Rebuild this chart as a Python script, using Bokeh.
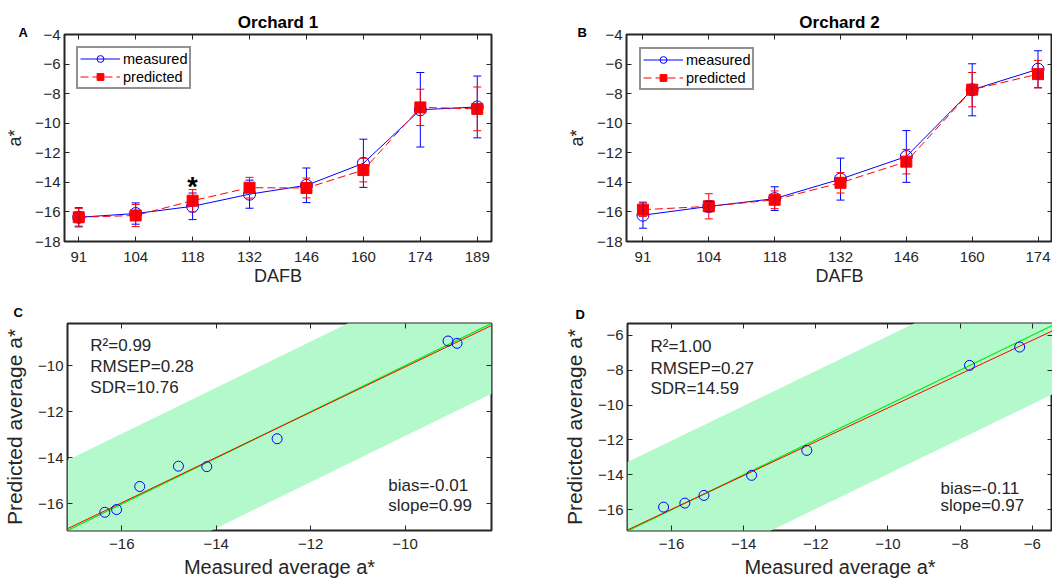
import numpy as np
from bokeh.plotting import figure
from bokeh.models import (ColumnDataSource, Whisker, TeeHead, FixedTicker, LinearAxis,
                          Range1d, Legend, LegendItem, Label, Title)
from bokeh.layouts import column, row
from bokeh.embed import file_html
from bokeh.resources import INLINE
from bokeh.core.properties import value

FONT = "Liberation Sans"
DARK = "#262626"
BLUE = "#0000ff"
RED = "#ff0000"
GREEN = "#00ee00"
BAND = "#b3f9cc"

# ---------------- data ----------------
# Orchard 1
dafb_o1 = ["91", "104", "118", "132", "146", "160", "174", "189"]
meas_o1 = [-16.36, -16.11, -15.62, -14.80, -14.20, -12.71, -9.09, -8.90]
meas_sd_o1 = [0.65, 0.72, 0.90, 0.95, 1.17, 1.63, 2.52, 2.09]
pred_o1 = [-16.36, -16.24, -15.24, -14.36, -14.38, -13.17, -8.93, -9.03]
pred_sd_o1 = [0.60, 0.75, 0.75, 0.70, 0.67, 0.80, 1.23, 1.48]
sig_o1 = ["", "", "*", "", "", "", "", ""]
sig_y_o1 = -14.3

# Orchard 2
dafb_o2 = ["91", "104", "118", "132", "146", "160", "174"]
meas_o2 = [-16.22, -15.63, -15.10, -13.78, -12.25, -7.74, -6.35]
meas_sd_o2 = [0.88, 0.35, 0.80, 1.42, 1.75, 1.76, 1.25]
pred_o2 = [-15.85, -15.62, -15.18, -14.03, -12.60, -7.73, -6.68]
pred_sd_o2 = [0.45, 0.85, 0.60, 0.69, 0.83, 1.16, 0.93]

yticks_top = [-18, -16, -14, -12, -10, -8, -6, -4]
ticks_c = [-16, -14, -12, -10]
ticks_d = [-16, -14, -12, -10, -8, -6]

stats_c = ["R\u00b2=0.99", "RMSEP=0.28", "SDR=10.76"]
fit_c = ["bias=-0.01", "slope=0.99"]
stats_d = ["R\u00b2=1.00", "RMSEP=0.27", "SDR=14.59"]
fit_d = ["bias=-0.11", "slope=0.97"]
band_half_c = 3.05
band_half_d = 3.95

range_c = (-17.15, -8.17)
range_d_x = (-17.22, -5.44)
range_d_y = (-17.19, -5.33)

# ---------------- layout ----------------
TOP_H = 290
BOT_H = 293
LEFT_W = 560
RIGHT_W = 492
TICK_FS = "15px"


def fmt(v):
    return ("\u2212" + str(abs(v))) if v < 0 else str(v)


def base_fig(w, h, xr, yr, bl, br, bt, bb):
    p = figure(width=w, height=h, x_range=Range1d(*xr), y_range=Range1d(*yr),
               output_backend="svg", toolbar_location=None,
               min_border_left=bl, min_border_right=br,
               min_border_top=bt, min_border_bottom=bb)
    p.title_location = None
    p.grid.visible = False
    p.outline_line_color = DARK
    p.outline_line_width = 2
    p.background_fill_color = "white"
    p.border_fill_color = "white"
    return p


def style_axis(ax, ticks, labels, font_size, label_size, standoff, label_standoff):
    ax.ticker = FixedTicker(ticks=ticks)
    ax.major_label_overrides = {t: l for t, l in zip(ticks, labels)}
    ax.major_tick_in = 5
    ax.major_tick_out = 0
    ax.minor_tick_line_color = None
    ax.major_tick_line_color = DARK
    ax.major_tick_line_width = 1
    ax.axis_line_color = None
    ax.major_label_text_font = FONT
    ax.major_label_text_font_size = font_size
    ax.major_label_text_color = DARK
    ax.major_label_standoff = standoff
    ax.axis_label_text_font = FONT
    ax.axis_label_text_font_size = label_size
    ax.axis_label_text_font_style = "normal"
    ax.axis_label_text_color = DARK
    ax.axis_label_standoff = label_standoff


def mirror(p, ticks, side):
    ax = LinearAxis(ticker=FixedTicker(ticks=ticks), major_label_text_font_size="0px",
                    major_label_text_color=None,
                    major_label_standoff=0, major_tick_in=5, major_tick_out=0,
                    minor_tick_line_color=None, axis_line_color=None,
                    major_tick_line_color=DARK)
    p.add_layout(ax, side)


def add_title(p, text, size, align, offset, standoff, valign="bottom"):
    p.add_layout(Title(text=text, align=align, offset=offset, standoff=standoff,
                       vertical_align=valign, text_font=FONT, text_font_size=size,
                       text_font_style="bold", text_color="black"),
                 "above")


def frame_pos(xr, yr, fw, fh, dx, dy):
    return (xr[0] + dx * (xr[1] - xr[0]) / fw, yr[1] - dy * (yr[1] - yr[0]) / fh)


def add_text(p, xr, yr, fw, fh, dx, dy, text, size, color=DARK):
    x, y = frame_pos(xr, yr, fw, fh, dx, dy)
    p.add_layout(Label(x=x, y=y, text=text, text_font=FONT, text_font_size=size,
                       text_color=color, text_baseline="middle", text_align="left"))


def series(p, idx, vals, sds, color, marker, dash, fill):
    src = ColumnDataSource(dict(x=idx, y=vals,
                                upper=[v + s for v, s in zip(vals, sds)],
                                lower=[v - s for v, s in zip(vals, sds)]))
    w = Whisker(base="x", upper="upper", lower="lower", source=src, level="glyph",
                line_color=color, line_width=1,
                upper_head=TeeHead(size=8, line_color=color, line_width=1),
                lower_head=TeeHead(size=8, line_color=color, line_width=1))
    p.add_layout(w)
    ln = p.line("x", "y", source=src, line_color=color, line_width=1, line_dash=dash)
    mk = p.scatter("x", "y", source=src, marker=marker, size=12 if marker == "circle" else 11,
                   line_color=color, fill_color=fill, line_width=1)
    return ln, mk


def ts_panel(title, cats, meas, msd, pred, psd, xr, w, bl, br, letter, letter_dx,
             legend_margin, sig=None, sig_y=None):
    yr = (-18, -4)
    p = base_fig(w, TOP_H, xr, yr, bl, br, 34, 49)
    idx = list(range(1, len(cats) + 1))
    p.xaxis.axis_label = "DAFB"
    p.yaxis.axis_label = "a*"
    style_axis(p.xaxis[0], idx, cats, TICK_FS, "18px", 10, 1)
    style_axis(p.yaxis[0], yticks_top, [fmt(t) for t in yticks_top], TICK_FS, "18px", 4, 7)
    mirror(p, idx, "above")
    mirror(p, yticks_top, "right")
    add_title(p, letter, "13px", "left", letter_dx, -15, valign="top")
    add_title(p, title, "17px", "center", 0, 1)
    ml, mm = series(p, idx, meas, msd, BLUE, "circle", "solid", None)
    pl, pm = series(p, idx, pred, psd, RED, "square", "8 4", RED)
    if sig is not None:
        p.text(x=idx, y=[sig_y] * len(idx), text=sig, text_font=value(FONT),
               text_font_size="27px", text_font_style="bold", text_color="black",
               text_align="center", text_baseline="middle")
    legend = Legend(items=[LegendItem(label="measured", renderers=[ml, mm]),
                           LegendItem(label="predicted", renderers=[pl, pm])],
                    location="top_left", margin=legend_margin, padding=2, spacing=1,
                    glyph_width=40, glyph_height=17, label_height=17, label_standoff=3,
                    label_text_font=FONT, label_text_font_size="14.5px", label_text_color="black",
                    border_line_color=DARK, border_line_width=2, background_fill_color="white",
                    background_fill_alpha=1)
    p.add_layout(legend)
    return p


def sc_panel(meas, pred, xr, yr, ticks, band_half, w, bl, br, bb, fh, stats, fit, stat_pos, fit_pos,
             letter, letter_dx, letter_standoff):
    fw = w - bl - br
    p = base_fig(w, BOT_H, xr, yr, bl, br, 33, bb)
    p.xaxis.axis_label = "Measured average a*"
    p.yaxis.axis_label = "Predicted average a*"
    style_axis(p.xaxis[0], ticks, [fmt(t) for t in ticks], TICK_FS, "20px", 8, 4)
    style_axis(p.yaxis[0], ticks, [fmt(t) for t in ticks], TICK_FS, "21px", 4, 9)
    mirror(p, ticks, "above")
    mirror(p, ticks, "right")
    add_title(p, letter, "13px", "left", letter_dx, letter_standoff, valign="top")
    lo = min(xr[0], yr[0])
    hi = max(xr[1], yr[1])
    bx = [lo, hi]
    p.varea(x=bx, y1=[v - band_half for v in bx], y2=[v + band_half for v in bx],
            fill_color=BAND, fill_alpha=1)
    p.line(bx, bx, line_color=GREEN, line_width=1.2)
    coef = np.polyfit(meas, pred, 1)
    p.line(bx, list(np.polyval(coef, bx)), line_color=RED, line_width=1)
    p.scatter(meas, pred, marker="circle", size=10, line_color=BLUE, fill_color=None, line_width=1)
    for (dx, dy), t in zip(stat_pos, stats):
        add_text(p, xr, yr, fw, fh, dx, dy, t, "17px")
    for (dx, dy), t in zip(fit_pos, fit):
        add_text(p, xr, yr, fw, fh, dx, dy, t, "17px")
    return p


pA = ts_panel("Orchard 1", dafb_o1, meas_o1, meas_sd_o1, pred_o1, pred_sd_o1,
              (0.75, len(dafb_o1) + 0.25), LEFT_W, 64, 69, "A", -46, 12, sig=sig_o1, sig_y=sig_y_o1)
pB = ts_panel("Orchard 2", dafb_o2, meas_o2, meas_sd_o2, pred_o2, pred_sd_o2,
              (0.75, len(dafb_o2) + 0.22), RIGHT_W, 66, 0, "B", -49, 13)
pC = sc_panel(meas_o1, pred_o1, range_c, range_c, ticks_c, band_half_c, LEFT_W, 64, 69, 52, 208,
              stats_c, fit_c, [(23, 22), (23, 43), (23, 64)], [(323, 163), (323, 183)],
              "C", -54, 4)
pD = sc_panel(meas_o2, pred_o2, range_d_x, range_d_y, ticks_d, band_half_d, RIGHT_W, 67, 0, 53, 207,
              stats_d, fit_d, [(23, 23), (23, 45), (23, 65)], [(313, 165), (313, 182)],
              "D", -52, 0)

layout = column(row(pA, pB), row(pC, pD))
open("out.html", "w").write(file_html(layout, INLINE))
